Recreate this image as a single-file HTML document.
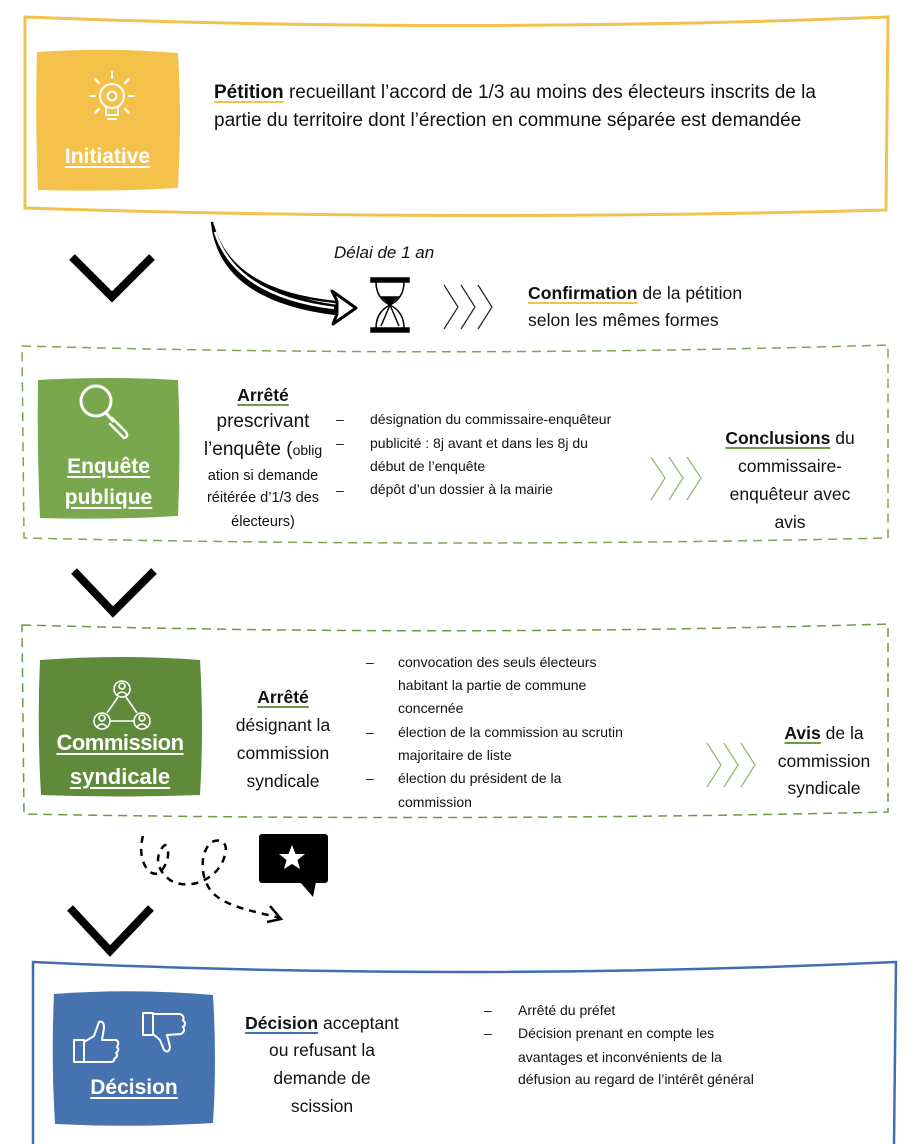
<!DOCTYPE html>
<html><head><meta charset="utf-8"><style>
html,body{margin:0;padding:0;background:#fff;}
body{width:916px;height:1144px;position:relative;overflow:hidden;font-family:"Liberation Sans",sans-serif;color:#111;}
.t{position:absolute;white-space:nowrap;line-height:24px;}
.c{position:absolute;white-space:nowrap;line-height:24px;text-align:center;}
.b{font-weight:bold;}
.uy{text-decoration:underline;text-decoration-color:#f2c14e;text-decoration-thickness:2px;text-underline-offset:3px;}
.ug{text-decoration:underline;text-decoration-color:#6f9a45;text-decoration-thickness:2px;text-underline-offset:3px;}
.ub{text-decoration:underline;text-decoration-color:#3f6fae;text-decoration-thickness:2px;text-underline-offset:3px;}
.uw{text-decoration:underline;text-decoration-color:#fff;text-decoration-thickness:2px;text-underline-offset:3px;color:#fff;font-weight:bold;}
svg{position:absolute;left:0;top:0;}
</style></head><body>
<svg width="916" height="1144" viewBox="0 0 916 1144">
<path d="M25,17 Q456,34 888,17 L886,210 Q456,222 25,208 Z" fill="none" stroke="#f2c14e" stroke-width="3"/>
<path d="M37,52 Q108,47 178,53 Q182,120 178,188 Q108,192 38,190 Q35,120 37,52 Z" fill="#f4c24a"/>
<g stroke="#fff" stroke-width="2" fill="none" stroke-linecap="round">
<circle cx="112" cy="96" r="12"/>
<circle cx="112" cy="96" r="4.5"/>
<path d="M106,108 L106,115 L118,115 L118,108"/>
<line x1="108" y1="119" x2="116" y2="119"/>
<line x1="112" y1="72" x2="112" y2="78"/>
<line x1="95" y1="96" x2="90" y2="96"/><line x1="129" y1="96" x2="134" y2="96"/>
<line x1="99" y1="83" x2="95" y2="79"/><line x1="125" y1="83" x2="129" y2="79"/>
<line x1="99" y1="109" x2="95" y2="113"/><line x1="125" y1="109" x2="129" y2="113"/>
</g>
<polyline points="72,257 112,297 152,257" fill="none" stroke="#000" stroke-width="8"/>
<polyline points="74,571 113,612 154,571" fill="none" stroke="#000" stroke-width="8"/>
<polyline points="70,908 110,951 151,908" fill="none" stroke="#000" stroke-width="8"/>
<!-- curved arrow -->
<path d="M212,222 Q226,290 338,306 L338,312 Q222,300 212,222 Z" fill="#000" stroke="#000" stroke-width="2"/>
<path d="M213,226 Q232,292 336,302" fill="none" stroke="#000" stroke-width="2.5"/>
<path d="M212,222 Q220,300 336,314" fill="none" stroke="#000" stroke-width="2.5"/>
<path d="M215,232 Q236,296 334,308" fill="none" stroke="#fff" stroke-width="2.5"/>
<polygon points="332,291 356,308 333,324 337,314 337,301" fill="#fff" stroke="#000" stroke-width="3" stroke-linejoin="round"/>
<!-- hourglass -->
<g stroke="#000" fill="none" stroke-width="1.5">
<rect x="371" y="278" width="38" height="4" fill="#000"/>
<rect x="371" y="328" width="38" height="4" fill="#000"/>
<path d="M376,282 Q376,298 390,305 Q376,312 376,328"/>
<path d="M404,282 Q404,298 390,305 Q404,312 404,328"/>
<path d="M382,297 L398,297 L390,304 Z" fill="#000"/>
<line x1="390" y1="305" x2="381" y2="326"/><line x1="390" y1="305" x2="399" y2="326"/>
</g>
<g fill="none" stroke="#222" stroke-width="1.2">
<polyline points="444,285 458,307 444,329"/>
<polyline points="461,285 475,307 461,329"/>
<polyline points="478,285 492,307 478,329"/>
</g>
<path d="M22,346 Q456,358 888,345 L888,538 Q456,548 24,538 Z" fill="none" stroke="#7da653" stroke-width="1.5" stroke-dasharray="9 6"/>
<path d="M38,380 Q108,376 178,380 Q181,450 178,516 Q108,520 40,518 Q37,450 38,380 Z" fill="#79a74e"/>
<g stroke="#fff" fill="none" stroke-width="3" stroke-linecap="round">
<circle cx="96" cy="401" r="15"/>
<path d="M106,413 L113,421"/>
<path d="M112,418 L126,432 Q129,437 124,438 L110,424" stroke-width="2.5"/>
</g>
<g fill="none" stroke="#8fb56a" stroke-width="1.2">
<polyline points="651,457 665,478 651,500"/>
<polyline points="669,457 683,478 669,500"/>
<polyline points="687,457 701,478 687,500"/>
</g>
<path d="M22,625 Q456,637 888,624 L888,812 Q456,822 24,814 Z" fill="none" stroke="#6f9a45" stroke-width="1.5" stroke-dasharray="9 6"/>
<path d="M40,660 Q120,654 200,660 Q204,728 200,795 Q120,798 41,795 Q37,728 40,660 Z" fill="#5e8a3a"/>
<g stroke="#fff" fill="none" stroke-width="1.6">
<circle cx="122" cy="689" r="8"/><circle cx="122" cy="686" r="3"/><path d="M117,695 Q122,689 127,695"/>
<circle cx="102" cy="721" r="8"/><circle cx="102" cy="718" r="3"/><path d="M97,727 Q102,721 107,727"/>
<circle cx="142" cy="721" r="8"/><circle cx="142" cy="718" r="3"/><path d="M137,727 Q142,721 147,727"/>
<line x1="118" y1="697" x2="107" y2="713"/><line x1="126" y1="697" x2="137" y2="713"/><line x1="110" y1="721" x2="134" y2="721"/>
</g>
<g fill="none" stroke="#8fb56a" stroke-width="1.2">
<polyline points="707,743 721,765 707,787"/>
<polyline points="724,743 738,765 724,787"/>
<polyline points="741,743 755,765 741,787"/>
</g>
<path d="M143,836 C136,860 150,880 160,872 C172,860 168,845 165,845 C160,848 150,865 170,880 C190,892 218,878 224,858 C230,842 220,838 212,842 C200,850 198,880 215,895 C230,908 258,912 280,918" fill="none" stroke="#000" stroke-width="2.5" stroke-dasharray="7 6"/>
<polyline points="270,906 281,919 267,922" fill="none" stroke="#000" stroke-width="2.5"/>
<rect x="259" y="834" width="69" height="49" rx="3" fill="#000"/>
<polygon points="300,882 313,897 316,882" fill="#000"/>
<polygon points="292,845 295.5,854 305,854 297.5,860 300,869 292,864 284,869 286.5,860 279,854 288.5,854" fill="#fff"/>
<path d="M33,1144 L33,962 Q460,982 896,962 L894,1144" fill="none" stroke="#3f6fae" stroke-width="2.5"/>
<path d="M54,994 Q134,988 213,995 Q217,1060 213,1123 Q134,1128 55,1124 Q51,1060 54,994 Z" fill="#4673b0"/>
<g stroke="#fff" fill="none" stroke-width="2" stroke-linejoin="round">
<path d="M74,1040 L84,1040 L84,1062 L74,1062 Z"/>
<path d="M84,1042 L94,1036 L99,1022 Q104,1020 104,1028 L102,1040 L116,1040 Q120,1042 117,1047 Q120,1050 116,1053 Q119,1056 114,1059 Q115,1062 110,1062 L84,1062"/>
<path d="M143,1013 L153,1013 L153,1035 L143,1035 Z"/>
<path d="M153,1014 L180,1014 Q185,1016 183,1020 Q187,1024 183,1027 Q186,1031 181,1034 L167,1035 L170,1047 Q169,1054 164,1050 L160,1040 L153,1034"/>
</g>
</svg>

<div class="c uw" style="left:37px;width:141px;top:145px;font-size:21px;">Initiative</div>
<div class="t" style="left:214px;top:81px;font-size:19px;"><span class="b uy">Pétition</span> recueillant l’accord de 1/3 au moins des électeurs inscrits de la</div>
<div class="t" style="left:214px;top:109px;font-size:19px;">partie du territoire dont l’érection en commune séparée est demandée</div>
<div class="t" style="left:334px;top:241px;font-size:17px;font-style:italic;">Délai de 1 an</div>
<div class="t" style="left:528px;top:281px;font-size:17.6px;"><span class="b uy">Confirmation</span> de la pétition</div>
<div class="t" style="left:528px;top:308px;font-size:17.6px;">selon les mêmes formes</div>

<div class="c uw" style="left:38px;width:141px;top:455px;font-size:21px;">Enquête</div>
<div class="c uw" style="left:38px;width:141px;top:486px;font-size:21px;">publique</div>
<div class="c b ug" style="left:183px;width:160px;top:383px;font-size:17.5px;">Arrêté</div>
<div class="c" style="left:183px;width:160px;top:410px;font-size:19px;">prescrivant</div>
<div class="c" style="left:183px;width:160px;top:438px;font-size:19px;">l’enquête (<span style="font-size:14px">oblig</span></div>
<div class="c" style="left:183px;width:160px;top:464px;font-size:14.5px;">ation si demande</div>
<div class="c" style="left:183px;width:160px;top:486px;font-size:14.5px;">réitérée d’1/3 des</div>
<div class="c" style="left:183px;width:160px;top:510px;font-size:14.5px;">électeurs)</div>
<div class="t" style="left:336px;top:407px;font-size:14px;">–</div>
<div class="t" style="left:336px;top:431px;font-size:14px;">–</div>
<div class="t" style="left:336px;top:478px;font-size:14px;">–</div>
<div class="t" style="left:370px;top:407px;font-size:14px;">désignation du commissaire-enquêteur</div>
<div class="t" style="left:370px;top:431px;font-size:14px;">publicité : 8j avant et dans les 8j du</div>
<div class="t" style="left:370px;top:454px;font-size:14px;">début de l’enquête</div>
<div class="t" style="left:370px;top:477px;font-size:14px;">dépôt d’un dossier à la mairie</div>
<div class="c" style="left:700px;width:180px;top:426px;font-size:17.5px;"><span class="b ug">Conclusions</span> du</div>
<div class="c" style="left:700px;width:180px;top:454px;font-size:17.5px;">commissaire-</div>
<div class="c" style="left:700px;width:180px;top:482px;font-size:17.5px;">enquêteur avec</div>
<div class="c" style="left:700px;width:180px;top:510px;font-size:17.5px;">avis</div>

<div class="c uw" style="left:35px;width:170px;top:731px;font-size:22px;letter-spacing:-0.5px;">Commission</div>
<div class="c uw" style="left:35px;width:170px;top:765px;font-size:22px;">syndicale</div>
<div class="c b ug" style="left:213px;width:140px;top:685px;font-size:17.5px;">Arrêté</div>
<div class="c" style="left:213px;width:140px;top:713px;font-size:17.5px;">désignant la</div>
<div class="c" style="left:213px;width:140px;top:741px;font-size:17.5px;">commission</div>
<div class="c" style="left:213px;width:140px;top:769px;font-size:17.5px;">syndicale</div>
<div class="t" style="left:366px;top:650px;font-size:14px;">–</div>
<div class="t" style="left:366px;top:720px;font-size:14px;">–</div>
<div class="t" style="left:366px;top:766px;font-size:14px;">–</div>
<div class="t" style="left:398px;top:650px;font-size:14px;">convocation des seuls électeurs</div>
<div class="t" style="left:398px;top:673px;font-size:14px;">habitant la partie de commune</div>
<div class="t" style="left:398px;top:696px;font-size:14px;">concernée</div>
<div class="t" style="left:398px;top:720px;font-size:14px;">élection de la commission au scrutin</div>
<div class="t" style="left:398px;top:743px;font-size:14px;">majoritaire de liste</div>
<div class="t" style="left:398px;top:766px;font-size:14px;">élection du président de la</div>
<div class="t" style="left:398px;top:790px;font-size:14px;">commission</div>
<div class="c" style="left:754px;width:140px;top:721px;font-size:17.5px;"><span class="b ug">Avis</span> de la</div>
<div class="c" style="left:754px;width:140px;top:749px;font-size:17.5px;">commission</div>
<div class="c" style="left:754px;width:140px;top:776px;font-size:17.5px;">syndicale</div>

<div class="c uw" style="left:54px;width:160px;top:1076px;font-size:21px;">Décision</div>
<div class="c" style="left:232px;width:180px;top:1011px;font-size:17.5px;"><span class="b ub">Décision</span> acceptant</div>
<div class="c" style="left:232px;width:180px;top:1038px;font-size:17.5px;">ou refusant la</div>
<div class="c" style="left:232px;width:180px;top:1066px;font-size:17.5px;">demande de</div>
<div class="c" style="left:232px;width:180px;top:1094px;font-size:17.5px;">scission</div>
<div class="t" style="left:484px;top:998px;font-size:14px;">–</div>
<div class="t" style="left:484px;top:1021px;font-size:14px;">–</div>
<div class="t" style="left:518px;top:998px;font-size:14px;">Arrêté du préfet</div>
<div class="t" style="left:518px;top:1021px;font-size:14px;">Décision prenant en compte les</div>
<div class="t" style="left:518px;top:1045px;font-size:14px;">avantages et inconvénients de la</div>
<div class="t" style="left:518px;top:1067px;font-size:14px;">défusion au regard de l’intérêt général</div>
</body></html>
